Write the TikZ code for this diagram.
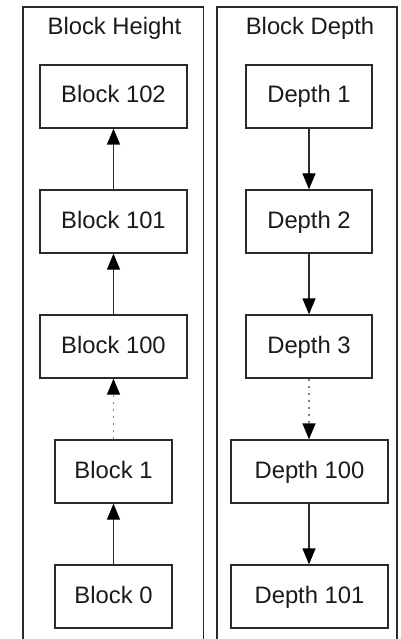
\documentclass[tikz,border=0pt]{standalone}
\usepackage{fontspec}
\setmainfont{Liberation Sans}
\usetikzlibrary{arrows.meta}
\definecolor{ln}{HTML}{2A2A2A}
\definecolor{tx}{HTML}{1A1A1A}
\begin{document}
\begin{tikzpicture}[x=1pt,y=-1pt,
  box/.style={draw=ln,line width=1.3pt,fill=white,minimum height=63pt,inner sep=0pt,text height=17pt,text depth=4pt,text=tx,font=\fontsize{23.8}{26}\selectfont},
  wide/.style={box,minimum width=147pt},
  narrow/.style={box,minimum width=117pt},
  dwide/.style={box,minimum width=157pt},
  dnarrow/.style={box,minimum width=126pt},
  col/.style={draw=ln,line width=1.3pt},
  title/.style={text=tx,font=\fontsize{23.8}{26}\selectfont,anchor=base,inner sep=0pt},
  conn/.style={draw=ln,line width=1.3pt,-{Triangle[length=16pt,width=13pt,color=black]}},
  dotconn/.style={conn,draw=gray,dash pattern=on 2pt off 5pt}]
\useasboundingbox[fill=white] (0,0) rectangle (400,639);
\draw[col] (23,640) -- (23,7) -- (203.5,7) -- (203.5,640);
\draw[col] (217,640) -- (217,7) -- (397,7) -- (397,640);
\node[title] (th) at (114.5,35) {Block Height};
\node[title] (td) at (310,35) {Block Depth};
\node[wide] (b102) at (113.5,96.5) {Block 102};
\node[wide] (b101) at (113.5,221.5) {Block 101};
\node[wide] (b100) at (113.5,346.5) {Block 100};
\node[narrow] (b1) at (113.5,471.5) {Block 1};
\node[narrow] (b0) at (113.5,596.5) {Block 0};
\node[dnarrow] (d1) at (309,96.5) {Depth 1};
\node[dnarrow] (d2) at (309,221.5) {Depth 2};
\node[dnarrow] (d3) at (309,346.5) {Depth 3};
\node[dwide] (d100) at (309.5,471.5) {Depth 100};
\node[dwide] (d101) at (309.5,596.5) {Depth 101};
\draw[conn] (b101.north) -- (b102.south);
\draw[conn] (b100.north) -- (b101.south);
\draw[dotconn] (b1.north) -- (b100.south);
\draw[conn] (b0.north) -- (b1.south);
\draw[conn] (d1.south) -- (d2.north);
\draw[conn] (d2.south) -- (d3.north);
\draw[dotconn] (d3.south) -- (d3.south |- d100.north);
\draw[conn] (d100.south -| d3.south) -- (d3.south |- d101.north);
\end{tikzpicture}
\end{document}
